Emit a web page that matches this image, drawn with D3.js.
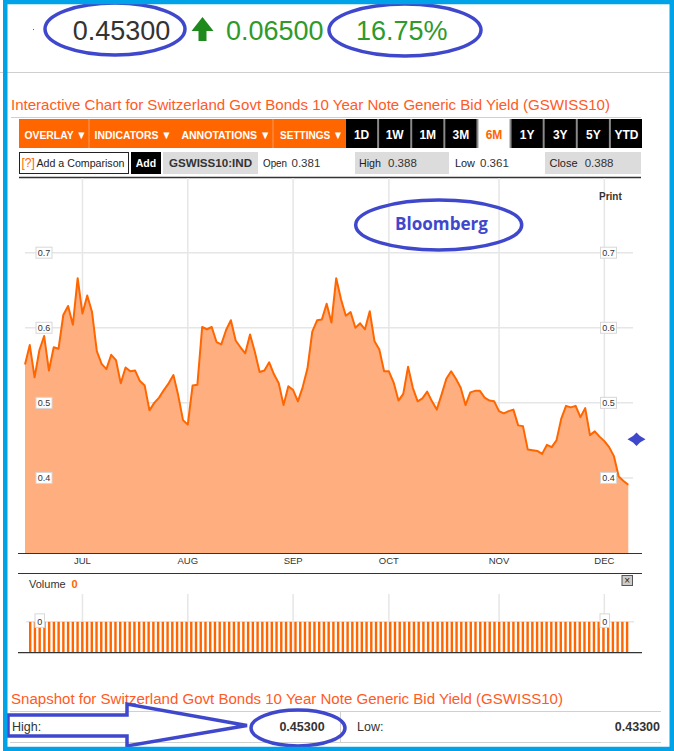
<!DOCTYPE html>
<html>
<head>
<meta charset="utf-8">
<script src="https://cdn.jsdelivr.net/npm/d3@7"></script>
<style>
  body { margin: 0; background: #fff; }
  svg { display: block; font-family: "Liberation Sans", Arial, sans-serif; }
</style>
</head>
<body>
<svg id="chart" width="674" height="751"></svg>
<script>
// daily bid yield (6 months, one value per trading day)
var values = [
  0.551, 0.577, 0.534, 0.570, 0.589, 0.543, 0.574, 0.572, 0.617, 0.629, 0.604, 0.666,
  0.619, 0.643, 0.621, 0.569, 0.552, 0.545, 0.564, 0.557, 0.526, 0.547, 0.542, 0.543,
  0.529, 0.523, 0.490, 0.500, 0.507, 0.517, 0.526, 0.537,
  0.510, 0.477, 0.471, 0.523, 0.524, 0.601, 0.598, 0.601, 0.581, 0.578, 0.597, 0.610,
  0.583, 0.574, 0.566, 0.591, 0.568, 0.541, 0.543, 0.554, 0.538, 0.526, 0.497, 0.522,
  0.517, 0.502, 0.521, 0.546, 0.595, 0.610,
  0.611, 0.632, 0.607, 0.666, 0.638, 0.616, 0.621, 0.600, 0.606, 0.598, 0.622, 0.582,
  0.571, 0.542, 0.542, 0.527, 0.503, 0.512, 0.548, 0.520, 0.502, 0.506, 0.515, 0.502,
  0.491, 0.511, 0.532, 0.542, 0.532, 0.520, 0.497, 0.514, 0.516,
  0.516, 0.507, 0.503, 0.502, 0.489, 0.486, 0.489, 0.491, 0.470, 0.469, 0.438, 0.437,
  0.436, 0.432, 0.444, 0.441, 0.450, 0.479, 0.496, 0.494, 0.496, 0.481, 0.493, 0.457,
  0.462, 0.455, 0.449, 0.441, 0.429, 0.402, 0.396, 0.391
];

// volume is zero every day
var volumes = [
  0,0,0,0,0,0,0,0,0,0,0,0,0,0,0,0,0,0,0,0,0,0,0,0,0,0,0,0,0,0,0,0,
  0,0,0,0,0,0,0,0,0,0,0,0,0,0,0,0,0,0,0,0,0,0,0,0,0,0,0,0,0,0,
  0,0,0,0,0,0,0,0,0,0,0,0,0,0,0,0,0,0,0,0,0,0,0,0,0,0,0,0,0,0,0,0,0,
  0,0,0,0,0,0,0,0,0,0,0,0,0,0,0,0,0,0,0,0,0,0,0,0,0,0,0,0,0,0,0,0
];

var monthLabels = ["JUL", "AUG", "SEP", "OCT", "NOV", "DEC"];
var monthIdx = [12, 34, 56, 76, 99, 121];   // first trading day of each month
var yTicks = [0.4, 0.5, 0.6, 0.7];

var lastPrice = "0.45300";
var netChange = "0.06500";
var pctChange = "16.75%";

var menuLabels = ["OVERLAY", "INDICATORS", "ANNOTATIONS", "SETTINGS"];
var rangeLabels = ["1D", "1W", "1M", "3M", "6M", "1Y", "3Y", "5Y", "YTD"];
var activeRange = "6M";
var ticker = "GSWISS10:IND";
var statLabels = ["Open", "High", "Low", "Close"];
var statValues = ["0.381", "0.388", "0.361", "0.388"];
var snapLabels = ["High:", "Low:"];
var snapValues = ["0.45300", "0.43300"];

var chartTitle = "Interactive Chart for Switzerland Govt Bonds 10 Year Note Generic Bid Yield (GSWISS10)";
var snapTitle = "Snapshot for Switzerland Govt Bonds 10 Year Note Generic Bid Yield (GSWISS10)";

var svg = d3.select("#chart");
var orange = "#ff6600", red = "#ff5a1f", ink = "#333", blue = "#3f48cc", grid = "#e6e6e6";

// ---------- quote header ----------
svg.append("line").attr("x1", 0).attr("x2", 674).attr("y1", 72.5).attr("y2", 72.5)
  .attr("stroke", "#cfcfcf");
svg.append("rect").attr("x", 33).attr("y", 29).attr("width", 1).attr("height", 1).attr("fill", "#c33");

svg.append("text").attr("x", 72.7).attr("y", 40).attr("font-size", 27).attr("fill", ink)
  .text(lastPrice);
svg.append("path")
  .attr("d", "M191.5,31 L202.5,17 L213.5,31 L206.5,31 L206.5,41 L198.5,41 L198.5,31 Z")
  .attr("fill", "#1e8a1e");
svg.append("text").attr("x", 226).attr("y", 40).attr("font-size", 27).attr("fill", "#2f9a2a")
  .text(netChange);
svg.append("text").attr("x", 356).attr("y", 40).attr("font-size", 27).attr("fill", "#2f9a2a")
  .text(pctChange);

svg.append("text").attr("x", 11).attr("y", 110).attr("font-size", 14.5).attr("fill", red)
  .attr("textLength", 599).attr("lengthAdjust", "spacingAndGlyphs")
  .text(chartTitle);
svg.append("line").attr("x1", 11).attr("x2", 641).attr("y1", 117.5).attr("y2", 117.5)
  .attr("stroke", "#d0d0d0");

// ---------- toolbar ----------
var menuX = [24.5, 94.6, 181.4, 280], menuW = [62, 77, 89, 63];
svg.append("rect").attr("x", 19).attr("y", 119).attr("width", 327).attr("height", 29).attr("fill", orange);
[89, 273].forEach(function (sx) {
  svg.append("line").attr("x1", sx).attr("x2", sx).attr("y1", 119).attr("y2", 148)
    .attr("stroke", "#ff9a5c");
});
svg.selectAll(".menu").data(menuLabels).enter().append("text")
  .attr("class", "menu")
  .attr("x", function (d, i) { return menuX[i]; })
  .attr("y", 139)
  .attr("font-size", 11.5).attr("font-weight", "bold").attr("fill", "#fff")
  .attr("textLength", function (d, i) { return menuW[i]; })
  .attr("lengthAdjust", "spacingAndGlyphs")
  .text(function (d) { return d + " \u25BC"; });

var rangeX = d3.scaleBand().domain(rangeLabels).range([346, 642]).paddingInner(0.06);
svg.append("rect").attr("x", 346).attr("y", 119).attr("width", 295).attr("height", 29).attr("fill", "#8a8a8a");
var btn = svg.selectAll(".range").data(rangeLabels).enter().append("g").attr("class", "range");
btn.append("rect")
  .attr("x", function (d) { return rangeX(d); })
  .attr("y", 119).attr("width", rangeX.bandwidth()).attr("height", 29)
  .attr("fill", function (d) { return d === activeRange ? "#fff" : "#000"; });
btn.append("text")
  .attr("x", function (d) { return rangeX(d) + rangeX.bandwidth() / 2; })
  .attr("y", 139).attr("text-anchor", "middle")
  .attr("font-size", 12).attr("font-weight", "bold")
  .attr("fill", function (d) { return d === activeRange ? orange : "#fff"; })
  .text(function (d) { return d; });

// ---------- comparison / stats row ----------
svg.append("rect").attr("x", 19.5).attr("y", 152.5).attr("width", 109).attr("height", 21)
  .attr("fill", "#fff").attr("stroke", "#222");
svg.append("text").attr("x", 21.5).attr("y", 167).attr("font-size", 12).attr("fill", orange)
  .text("[?]");
svg.append("text").attr("x", 36.5).attr("y", 167).attr("font-size", 11).attr("fill", "#222")
  .attr("textLength", 88).attr("lengthAdjust", "spacingAndGlyphs").text("Add a Comparison");
svg.append("rect").attr("x", 131).attr("y", 152).attr("width", 30).attr("height", 22).attr("fill", "#000");
svg.append("text").attr("x", 146).attr("y", 167).attr("text-anchor", "middle")
  .attr("font-size", 10.5).attr("font-weight", "bold").attr("fill", "#fff").text("Add");
svg.append("rect").attr("x", 163).attr("y", 152).attr("width", 95).attr("height", 22).attr("fill", "#dcdcdc");
svg.append("text").attr("x", 169).attr("y", 167).attr("font-size", 11.5).attr("font-weight", "bold")
  .attr("fill", ink).attr("textLength", 83).attr("lengthAdjust", "spacingAndGlyphs").text(ticker);

var statBox = [null, [355, 94], null, [545, 96]];
var statLabelX = [263, 359, 455, 549.5], statLabelW = [24, 22, 20, 28];
var statValueX = [291.5, 388, 480, 584.7];
statLabels.forEach(function (lab, i) {
  if (statBox[i]) {
    svg.append("rect").attr("x", statBox[i][0]).attr("y", 152).attr("width", statBox[i][1])
      .attr("height", 22).attr("fill", "#dcdcdc");
  }
  svg.append("text").attr("x", statLabelX[i]).attr("y", 167).attr("font-size", 11.5)
    .attr("fill", "#222").attr("textLength", statLabelW[i]).attr("lengthAdjust", "spacingAndGlyphs")
    .text(lab);
  svg.append("text").attr("x", statValueX[i]).attr("y", 167).attr("font-size", 11.5)
    .attr("fill", ink).text(statValues[i]);
});
svg.append("line").attr("x1", 19).attr("x2", 641).attr("y1", 177.5).attr("y2", 177.5)
  .attr("stroke", "#333").attr("stroke-width", 1.5);

// ---------- price chart ----------
var x = d3.scaleLinear().domain([0, values.length - 1]).range([25, 628.3]);
var y = d3.scaleLinear().domain([0.3, 0.7]).range([553, 252.7]);

var gx = svg.append("g");
gx.selectAll("line").data(monthIdx).enter().append("line")
  .attr("x1", function (d) { return x(d); }).attr("x2", function (d) { return x(d); })
  .attr("y1", 178).attr("y2", 553).attr("stroke", grid).attr("stroke-width", 1.5);

var gy = svg.append("g");
gy.selectAll("line").data(yTicks).enter().append("line")
  .attr("x1", 25).attr("x2", 633)
  .attr("y1", function (d) { return y(d); }).attr("y2", function (d) { return y(d); })
  .attr("stroke", grid).attr("stroke-width", 1.5);

svg.append("path").datum(values)
  .attr("d", d3.area().x(function (d, i) { return x(i); }).y0(y(0.3)).y1(function (d) { return y(d); }))
  .attr("fill", "#ffae7f");
svg.append("path").datum(values)
  .attr("d", d3.line().x(function (d, i) { return x(i); }).y(function (d) { return y(d); }))
  .attr("fill", "none").attr("stroke", orange).attr("stroke-width", 2).attr("stroke-linejoin", "round");

// y labels on both sides, in small boxes
var fmt = d3.format(".1f");
[[36, 16], [600.5, 16]].forEach(function (pos) {
  var lab = svg.append("g").selectAll("g").data(yTicks).enter().append("g");
  lab.append("rect").attr("x", pos[0]).attr("y", function (d) { return y(d) - 5.5; })
    .attr("width", pos[1]).attr("height", 11).attr("fill", "#fff").attr("stroke", "#d8d8d8");
  lab.append("text").attr("x", pos[0] + pos[1] / 2).attr("y", function (d) { return y(d) + 3.5; })
    .attr("text-anchor", "middle").attr("font-size", 9).attr("fill", ink)
    .text(function (d) { return fmt(d); });
});

svg.append("line").attr("x1", 18).attr("x2", 642).attr("y1", 553.5).attr("y2", 553.5)
  .attr("stroke", "#333").attr("stroke-width", 1.2);
svg.selectAll(".month").data(monthLabels).enter().append("text")
  .attr("class", "month")
  .attr("x", function (d, i) { return x(monthIdx[i]); }).attr("y", 564)
  .attr("text-anchor", "middle").attr("font-size", 9.5).attr("fill", ink)
  .text(function (d) { return d; });
svg.append("line").attr("x1", 18).attr("x2", 642).attr("y1", 573.5).attr("y2", 573.5)
  .attr("stroke", "#333").attr("stroke-width", 1.2);

svg.append("text").attr("x", 599).attr("y", 199.5).attr("font-size", 10).attr("font-weight", "bold")
  .attr("fill", ink).text("Print");

// ---------- volume panel ----------
var xv = d3.scaleLinear().domain([0, volumes.length - 1]).range([30.2, 627.1]);
var yv = d3.scaleLinear().domain(d3.extent(volumes)).range([652.7, 591]);

svg.append("text").attr("x", 29).attr("y", 587.5).attr("font-size", 11).attr("fill", ink).text("Volume");
svg.append("text").attr("x", 71.5).attr("y", 587.5).attr("font-size", 11).attr("font-weight", "bold")
  .attr("fill", orange).text(d3.sum(volumes));
svg.append("rect").attr("x", 622).attr("y", 575.5).attr("width", 10.5).attr("height", 10)
  .attr("fill", "#ccc").attr("stroke", "#555");
svg.append("text").attr("x", 627.2).attr("y", 584.3).attr("text-anchor", "middle")
  .attr("font-size", 10).attr("fill", "#222").text("\u00D7");

svg.append("g").selectAll("line").data(monthIdx).enter().append("line")
  .attr("x1", function (d) { return x(d); }).attr("x2", function (d) { return x(d); })
  .attr("y1", 594).attr("y2", 652).attr("stroke", grid).attr("stroke-width", 1.5);
svg.append("line").attr("x1", 26).attr("x2", 634).attr("y1", yv(0)).attr("y2", yv(0))
  .attr("stroke", grid).attr("stroke-width", 1.5);

svg.append("g").selectAll("rect").data(volumes).enter().append("rect")
  .attr("x", function (d, i) { return xv(i) - 1.2; })
  .attr("y", function (d) { return yv(d); })
  .attr("width", 2.4)
  .attr("height", function (d) { return 652.7 - yv(d); })
  .attr("fill", orange);

[35, 600].forEach(function (bx) {
  svg.append("rect").attr("x", bx).attr("y", yv(0) - 8).attr("width", 9.5).attr("height", 13.5)
    .attr("fill", "#fff").attr("stroke", "#d8d8d8");
  svg.append("text").attr("x", bx + 4.75).attr("y", yv(0) + 3).attr("text-anchor", "middle")
    .attr("font-size", 9).attr("fill", ink).text(0);
});
svg.append("line").attr("x1", 18).attr("x2", 642).attr("y1", 652.7).attr("y2", 652.7)
  .attr("stroke", "#333").attr("stroke-width", 1.2);

// ---------- snapshot ----------
svg.append("text").attr("x", 11).attr("y", 703.5).attr("font-size", 14).attr("fill", red)
  .attr("textLength", 552).attr("lengthAdjust", "spacingAndGlyphs").text(snapTitle);
[711, 742].forEach(function (ly) {
  svg.append("line").attr("x1", 10).attr("x2", 661).attr("y1", ly + 0.5).attr("y2", ly + 0.5)
    .attr("stroke", "#d0d0d0");
});
svg.append("line").attr("x1", 340.5).attr("x2", 340.5).attr("y1", 711).attr("y2", 742).attr("stroke", "#d0d0d0");
var snapLabelX = [12, 357], snapValueX = [324.6, 660];
snapLabels.forEach(function (lab, i) {
  svg.append("text").attr("x", snapLabelX[i]).attr("y", 731).attr("font-size", 12.5).attr("fill", ink).text(lab);
  svg.append("text").attr("x", snapValueX[i]).attr("y", 731).attr("text-anchor", "end")
    .attr("font-size", 12.5).attr("font-weight", "bold").attr("fill", ink).text(snapValues[i]);
});

// ---------- hand-drawn annotations ----------
var ellipses = [[115, 29, 70, 26], [405, 30, 76, 26], [438.7, 225, 83, 25], [298, 728, 47, 18]];
ellipses.forEach(function (e) {
  svg.append("ellipse").attr("cx", e[0]).attr("cy", e[1]).attr("rx", e[2]).attr("ry", e[3])
    .attr("fill", "none").attr("stroke", blue).attr("stroke-width", 3.5);
});
svg.append("text").attr("x", 395).attr("y", 229.5).attr("font-family", "'Open Sans', sans-serif")
  .attr("font-size", 17).attr("font-weight", "bold").attr("fill", blue)
  .attr("textLength", 93).attr("lengthAdjust", "spacingAndGlyphs").text("Bloomberg");
svg.append("path")
  .attr("d", "M8,715 L127,715 L127,704 L247,725.5 L127,746 L127,736 L8,736 Z")
  .attr("fill", "none").attr("stroke", blue).attr("stroke-width", 3.5).attr("stroke-linejoin", "miter");
svg.append("path")
  .attr("d", "M636.5,432.5 L640,436 L645.5,439.3 L640,442.6 L636.5,446 L633,442.6 L627.5,439.3 L633,436 Z")
  .attr("fill", blue);

// frame
svg.append("rect").attr("x", 5.25).attr("y", 2).attr("width", 666.5).attr("height", 747)
  .attr("fill", "none").attr("stroke", "#00a2e8").attr("stroke-width", 4.5);
</script>
</body>
</html>
